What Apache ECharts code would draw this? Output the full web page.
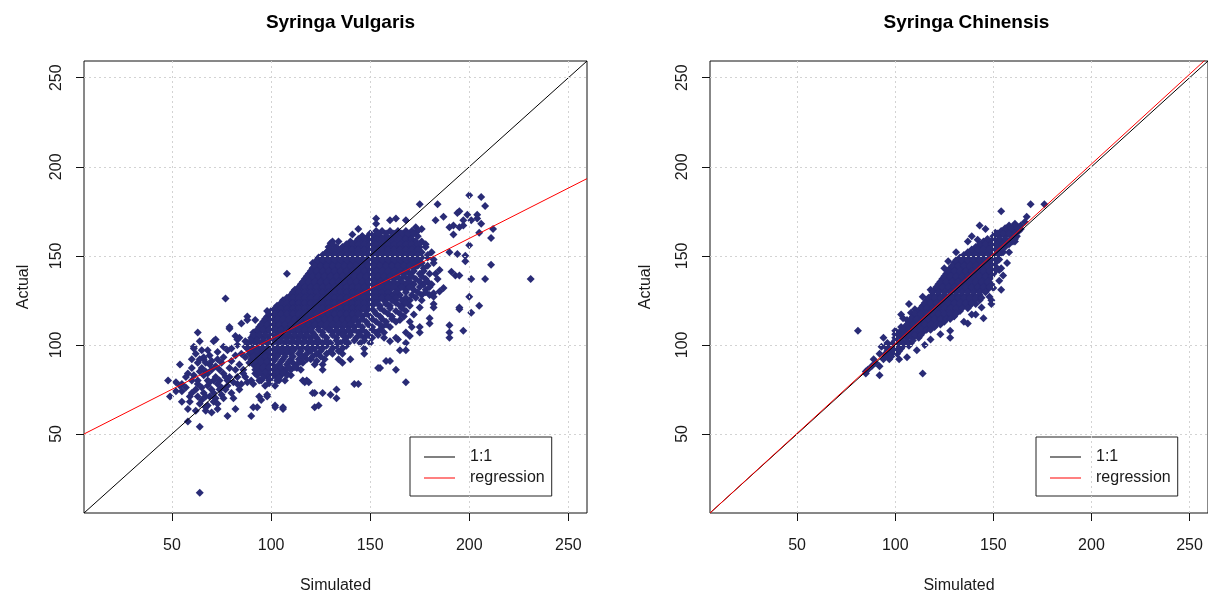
<!DOCTYPE html>
<html>
<head>
<meta charset="utf-8">
<script src="https://cdn.jsdelivr.net/npm/echarts@6/dist/echarts.min.js"></script>
<style>
html,body{margin:0;padding:0;background:#fff;}
#chart{width:1208px;height:599px;}
</style>
</head>
<body>
<div id="chart"></div>
<script>
// Shared axis extent (both axes, both panels) and tick marks
const axisMin = 5.6, axisMax = 259.4;
const tickValues = [50, 100, 150, 200, 250];
const panelTitles = ['Syringa Vulgaris', 'Syringa Chinensis'];
const legendNames = ['1:1', 'regression'];

// Fitted regression lines: [intercept, slope]
const vulgarisFit = [46.8, 0.565];
const chinensisFit = [-0.05, 1.008];

// Syringa vulgaris: scattered observations, [simulated, actual]
const vulgarisSparse = [
 [175,179],[184,179],[200,184],[206,183],[208,178],[194,174],[195,175],[199,173],[204,173],[204,171],
 [183,170],[187,172],[197,170],[201,170],[190,166],[192,167],[195,166],[197,167],[206,168],[205,163],
 [212,165],[192,162],[200,156],[190,152],[194,151],[198,150],[198,147],[211,145],[191,141],[193,139],
 [201,137],[208,137],[195,120],[201,118],[205,122],[200,127],[195,121],[190,111],[197,108],[190,104],
 [190,107],[180,112],[231,137],[211,160],[195,139],[185,130],[187,132],[182,127],[182,123],
 [153,171],[153,168],[160,170],[163,171],[168,170],[173,166],[176,165],[144,165],[141,162],[146,161],
 [130,157],[128,152],[123,145],[121,143],[108,140],[77,126],[88,116],[88,114],[79,109],[63,107],
 [61,98],[64,102],[54,89],[60,92],[66,93],[52,79],[55,78],[49,71],[48,80],[55,68],[59,71],[58,57],
 [64,54],[67,63],[73,64],[78,60],[82,64],[90,60],[93,65],[95,69],[98,72],[102,66],[106,64],[117,79],
 [119,79],[121,73],[122,73],[126,73],[130,72],[133,75],[133,70],[122,65],[124,66],[116,90],[120,92],
 [126,86],[126,89],[136,90],[140,92],[147,95],[147,98],[142,78],[144,78],[155,87],[160,91],[163,86],
 [168,79],[168,97],[165,97],[168,101],[158,91],[154,87],[160,102],[164,103],[170,105],[175,107],
 [165,114],[172,117],[180,115],[158,123],[163,125],[167,123],[175,121],[182,121],[182,129],[183,140],
 [185,142],[179,149],[182,148],[64,17],
 [61,99],[68,97],[71,102],[72,103],[69,94],[73,96],[73,92],[66,92],[64,92],[63,90],[60,87],[65,87],
 [69,89],[75,90],[79,87],[84,89],[87,93],[82,94],[78,97],[83,100],[87,99],[91,96],[89,90],[94,91],
 [66,83],[63,80],[68,80],[72,82],[76,84],[63,78],[68,77],[73,78],[78,80],[62,75],[66,73],[71,73],
 [77,75],[80,73],[63,71],[65,69],[69,71],[75,72],[64,67],[59,68],[55,74],[54,77],[83,78],[85,78],
 [87,82],[83,82],[92,84],[90,80],[94,80],[94,71],[98,71],[91,65],[102,65],[106,65],[94,87],[99,87],
 [98,82],[102,83],[104,80],[108,84],[110,83],[111,90],[113,87],[116,80],[118,80],[123,91],[82,105],
 [84,104],[87,102],[88,101],[91,103],[83,103],[93,108],[92,114],[95,111],[98,119],[79,110],[85,112],
 [70,86],[74,86],[67,85],[58,84],[57,82],[61,83],[70,75],[75,76],[79,82],[82,86],[86,86],[71,68],
 [68,66],[62,63],[70,62],[76,70],[58,64],[52,74],
 [62,95],[65,97],[67,90],[70,91],[72,88],[76,93],[80,91],[64,85],[68,84],[71,80],[74,80],[77,82],
 [60,80],[65,76],[69,79],[74,75],[78,77],[81,79],[67,71],[72,70],[60,73],[57,76],[85,95],[80,98],
 [76,99],[86,84],[88,79],[91,78],[84,75],[81,70],[73,67],[67,65]
];

// Syringa vulgaris, dense centre: each row is [actual, simulated, simulated, ...]
const vulgarisCore = [
 [164, 153,156,160,164,168,171,174],
 [161, 146,149,152,155,158,161,164,167,170,174],
 [158, 131,134,140,143,146,149,152,155,158,161,164,167,170,173,176],
 [155, 129,133,136,139,142,145,148,151,154,157,160,163,166,169,172,175,178],
 [152, 128,131,134,137,140,143,146,149,152,155,158,161,164,167,170,173,176,181],
 [149, 124,127,130,133,136,139,142,145,148,151,154,157,160,163,166,169,172,176],
 [146, 121,124,127,130,133,136,139,142,145,148,151,154,157,160,163,166,169,172,176,182],
 [143, 121,124,127,130,133,136,139,142,145,148,151,154,157,160,163,166,169,172,177],
 [140, 119,122,125,128,131,134,137,140,143,146,149,152,155,158,161,164,167,170,175,180],
 [137, 117,120,123,126,129,132,135,138,141,144,147,150,153,156,159,162,165,169,173,178,184],
 [134, 115,118,121,124,127,130,133,136,139,142,145,148,151,154,157,160,164,168,172,177,181],
 [131, 112,115,118,121,124,127,130,133,136,139,142,145,148,151,154,157,160,164,168,172,178],
 [128, 110,113,116,119,122,125,128,131,134,137,140,143,146,149,152,155,158,161,165,171,176,180],
 [125, 106,109,112,115,118,121,124,127,130,133,136,139,142,145,148,151,154,157,161,166,170,176],
 [122, 103,106,109,112,115,118,121,124,127,130,133,136,139,142,145,148,151,155,160,165,170],
 [119, 100,103,106,109,112,115,118,121,124,127,130,133,136,139,142,145,148,152,157,163,168],
 [116, 98,101,104,107,110,113,116,119,122,125,128,131,134,137,140,143,146,150,155,161,167],
 [113, 96,99,102,105,108,111,114,117,120,123,126,129,132,135,138,141,144,148,153,158,163,170],
 [110, 94,97,100,103,106,109,112,115,118,121,124,127,130,133,136,139,142,146,151,156,160,171,175],
 [107, 91,94,97,100,103,106,109,112,115,118,121,126,131,134,137,140,144,148,153,157,168],
 [104, 90,93,96,99,102,105,108,111,114,117,120,123,128,133,138,143,147,151,157,163],
 [101, 89,92,95,98,101,104,107,110,113,116,119,122,126,130,135,139,145,150],
 [98, 88,91,94,97,100,103,106,109,112,115,118,122,126,131,136],
 [95, 89,92,95,98,101,104,107,110,114,118,123,128,131,136],
 [92, 90,93,96,99,102,106,110,114,118,127,134],
 [89, 91,94,97,100,104,108,113,122],
 [86, 92,95,98,101,104,107,110,115],
 [83, 93,96,99,102,105,108],
 [80, 95,99,103,107],
 [77, 97,102]
];

// Syringa vulgaris, dense centre, readings between the rows above
const vulgarisCoreMid = [
 [162.5, 150,154,158,162,166,169,172],
 [159.5, 144,147,150,153,156,159,162,165,168,171],
 [156.5, 131,138,141,144,147,150,153,156,159,162,165,168,171,174,178],
 [153.5, 130,132,135,138,141,144,147,150,153,156,159,162,165,168,171,174],
 [150.5, 126,129,132,135,138,141,144,147,150,153,156,159,162,165,168,171,174,179],
 [147.5, 123,126,129,132,135,138,141,144,147,150,153,156,159,162,165,168,171,174],
 [144.5, 122,125,128,131,134,137,140,143,146,149,152,155,158,161,164,167,170,174,179],
 [141.5, 120,123,126,129,132,135,138,141,144,147,150,153,156,159,162,165,168,172,177],
 [138.5, 118,121,124,127,130,133,136,139,142,145,148,151,154,157,160,163,167,171,176],
 [135.5, 116,119,122,125,128,131,134,137,140,143,146,149,152,155,158,162,166,170,175,179],
 [132.5, 114,117,120,123,126,129,132,135,138,141,144,147,150,153,156,159,162,166,170,175,180],
 [129.5, 111,114,117,120,123,126,129,132,135,138,141,144,147,150,153,156,159,163,168,174,178],
 [126.5, 108,111,114,117,120,123,126,129,132,135,138,141,144,147,150,153,156,159,163,168,173],
 [123.5, 105,108,111,114,117,120,123,126,129,132,135,138,141,144,147,150,153,158,163,168],
 [120.5, 102,105,108,111,114,117,120,123,126,129,132,135,138,141,144,147,150,155,160,166],
 [117.5, 99,102,105,108,111,114,117,120,123,126,129,132,135,138,141,144,148,153,159,165],
 [114.5, 97,100,103,106,109,112,115,118,121,124,127,130,133,136,139,142,146,151,156,161],
 [111.5, 95,98,101,104,107,110,113,116,119,122,125,128,131,134,137,140,144,149,155,158],
 [108.5, 93,96,99,102,105,108,111,114,117,120,124,129,133,136,139,142,146,151,155],
 [105.5, 91,94,97,100,103,106,109,112,115,118,122,126,131,136,140,145,149,154],
 [102.5, 90,93,96,99,102,105,108,111,114,117,120,124,128,133,137,142,147],
 [99.5, 89,92,95,98,101,104,107,110,113,116,120,124,128,133,138],
 [96.5, 90,93,96,99,102,105,108,111,115,120,125,130,134],
 [93.5, 91,94,97,100,103,107,111,116,121,125],
 [90.5, 92,95,98,101,105,109,115],
 [87.5, 93,96,99,102,105,109,112],
 [84.5, 94,97,100,103,106],
 [81.5, 96,100,104],
 [78.5, 99]
];

// Syringa chinensis: scattered observations, [simulated, actual]
const chinensisSparse = [
 [169,179],[176,179],[154,175],[161,168],[166,169],[167,172],[143,167],[142,159],[151,163],[153,162],
 [107,123],[103,117],[104,115],[81,108],[94,104],[93,99],[95,99],[100,108],[97,93],[92,95],[90,90],
 [92,88],[86,86],[85,85],[92,83],[85,84],[102,92],[106,93],[111,97],[114,84],[128,104],[121,112],
 [124,113],[137,112],[141,117],[145,115],[141,123],[149,123],[149,125],[150,132],[154,131],[153,148],
 [154,143],[153,142],[97,99],[100,106],[103,110],[106,114],[96,101],[98,96],[118,131],[114,127],
 [110,120],[108,118],[127,147],[125,143],[131,152],[137,158],[139,161],[146,165],[135,113],[139,117],
 [144,121],[148,127],[153,136],[155,139],[157,146],[158,152],[161,158],[128,108],[123,106],[118,103],
 [115,100],[164,165],[163,166],[88,88],[89,92]
];

// Syringa chinensis, dense centre: each row is [actual, simulated, simulated, ...]
const chinensisCore = [
 [167, 158,161,164],
 [164, 154,157,160,163],
 [161, 150,153,156,159,162],
 [158, 145,148,151,154,157,160],
 [155, 141,144,147,150,153,156],
 [152, 137,140,143,146,149,152,155],
 [149, 133,136,139,142,145,148,151],
 [146, 130,133,136,139,142,145,148,151],
 [143, 128,131,134,137,140,143,146,149,152],
 [140, 126,129,132,135,138,141,144,147,150],
 [137, 124,127,130,133,136,139,142,145,148],
 [134, 122,125,128,131,134,137,140,143,146,149],
 [131, 120,123,126,129,132,135,138,141,144,147],
 [128, 119,122,125,128,131,134,137,140,143],
 [125, 116,119,122,125,128,131,134,137,140,143],
 [122, 114,117,120,123,126,129,132,135,138],
 [119, 112,115,118,121,124,127,130,133],
 [116, 109,112,115,118,121,124,127,130],
 [113, 107,110,113,116,119,122,125],
 [110, 105,108,111,114,117,120],
 [107, 102,105,108,111,114],
 [104, 100,103,106,109,112],
 [101, 99,102,105,108],
 [98, 97,100,103],
 [95, 95,98,101],
 [92, 94,97]
];

// Syringa chinensis, dense centre, readings between the rows above
const chinensisCoreMid = [
 [165.5, 156,159,162],
 [162.5, 152,155,158,161],
 [159.5, 147,150,153,156,159,161],
 [156.5, 143,146,149,152,155,158],
 [153.5, 139,142,145,148,151,154],
 [150.5, 135,138,141,144,147,150,153],
 [147.5, 131,134,137,140,143,146,149,152],
 [144.5, 129,132,135,138,141,144,147,150],
 [141.5, 127,130,133,136,139,142,145,148,151],
 [138.5, 125,128,131,134,137,140,143,146,149],
 [135.5, 123,126,129,132,135,138,141,144,147],
 [132.5, 121,124,127,130,133,136,139,142,145,148],
 [129.5, 119,122,125,128,131,134,137,140,143,146],
 [126.5, 117,120,123,126,129,132,135,138,141,144],
 [123.5, 115,118,121,124,127,130,133,136,139],
 [120.5, 113,116,119,122,125,128,131,134,137],
 [117.5, 110,113,116,119,122,125,128,131],
 [114.5, 108,111,114,117,120,123,126,128],
 [111.5, 106,109,112,115,118,121,123],
 [108.5, 104,107,110,113,116,118],
 [105.5, 101,104,107,110,113],
 [102.5, 100,103,106,109],
 [99.5, 98,101,104,107],
 [96.5, 96,99,102],
 [93.5, 95,98]
];

function expandRows(rows) {
  const out = [];
  rows.forEach(r => { for (let i = 1; i < r.length; i++) out.push([r[i], r[0]]); });
  return out;
}
function fitLine(fit) {
  return [[axisMin, fit[0] + fit[1] * axisMin], [axisMax, fit[0] + fit[1] * axisMax]];
}

const FONT = '"Liberation Sans", Arial, sans-serif';
const TEXT = '#1a1a1a';
const POINT = '#292b76';

const panels = [
  {
    title: panelTitles[0], fit: vulgarisFit,
    pts: vulgarisSparse.concat(expandRows(vulgarisCore), expandRows(vulgarisCoreMid))
  },
  {
    title: panelTitles[1], fit: chinensisFit,
    pts: chinensisSparse.concat(expandRows(chinensisCore), expandRows(chinensisCoreMid))
  }
];
const gridLeft = [84, 710];
const legendLeft = [410, 1036];
const nameGapY = [52, 56];

const option = {
  animation: false,
  backgroundColor: '#fff',
  title: panels.map((p, i) => ({
    text: p.title,
    left: gridLeft[i] + 251.5,
    textAlign: 'center',
    top: 8,
    textStyle: { fontFamily: FONT, fontSize: 19, fontWeight: 'bold', color: '#000' }
  })),
  grid: panels.map((p, i) => ({
    left: gridLeft[i], top: 61, width: 503, height: 456,
    show: true, borderColor: '#111', borderWidth: 1, backgroundColor: 'transparent'
  })),
  xAxis: panels.map((p, i) => ({
    gridIndex: i, type: 'value', min: axisMin, max: axisMax,
    name: 'Simulated', nameLocation: 'middle', nameGap: 65,
    nameTextStyle: { fontFamily: FONT, fontSize: 16, color: TEXT },
    axisLine: { show: false },
    axisTick: { show: true, customValues: tickValues, length: 8, lineStyle: { color: '#111' } },
    axisLabel: { customValues: tickValues, margin: 25, fontFamily: FONT, fontSize: 16, color: TEXT },
    splitLine: { show: false }
  })),
  yAxis: panels.map((p, i) => ({
    gridIndex: i, type: 'value', min: axisMin, max: axisMax,
    name: 'Actual', nameLocation: 'middle', nameGap: nameGapY[i],
    nameTextStyle: { fontFamily: FONT, fontSize: 16, color: TEXT },
    axisLine: { show: false },
    axisTick: { show: true, customValues: tickValues, length: 8, lineStyle: { color: '#111' } },
    axisLabel: { customValues: tickValues, margin: 19, rotate: 90, fontFamily: FONT, fontSize: 16, color: TEXT },
    splitLine: { show: false }
  })),
  legend: panels.map((p, i) => ({
    data: legendNames,
    orient: 'vertical',
    left: legendLeft[i], top: 437,
    padding: [12, 7, 10, 14],
    itemGap: 5,
    itemWidth: 31, itemHeight: 1,
    icon: 'rect',
    selectedMode: false,
    backgroundColor: '#fff',
    borderColor: '#222', borderWidth: 1, borderRadius: 0,
    textStyle: { fontFamily: FONT, fontSize: 16, color: TEXT, lineHeight: 16, padding: [0, 0, 0, 10] }
  })),
  series: []
};

panels.forEach((p, i) => {
  option.series.push({
    type: 'scatter', xAxisIndex: i, yAxisIndex: i, data: p.pts, z: 2,
    symbol: 'diamond', symbolSize: 8,
    itemStyle: { color: POINT, opacity: 1 },
    silent: true
  });
  // dotted reference grid at the tick positions, laid over the points
  option.series.push({
    type: 'scatter', xAxisIndex: i, yAxisIndex: i, data: [], z: 3, silent: true,
    markLine: {
      silent: true, symbol: ['none', 'none'], label: { show: false },
      lineStyle: { color: '#d3d3d3', type: [2, 3], width: 1 },
      emphasis: { disabled: true },
      data: tickValues.map(v => ({ xAxis: v })).concat(tickValues.map(v => ({ yAxis: v })))
    }
  });
  option.series.push({
    name: '1:1', type: 'line', xAxisIndex: i, yAxisIndex: i, z: 4,
    data: [[axisMin, axisMin], [axisMax, axisMax]],
    showSymbol: false, symbol: 'none', silent: true,
    lineStyle: { color: '#000', width: 1 }, itemStyle: { color: '#000' }
  });
  option.series.push({
    name: 'regression', type: 'line', xAxisIndex: i, yAxisIndex: i, z: 5,
    data: fitLine(p.fit),
    showSymbol: false, symbol: 'none', silent: true,
    lineStyle: { color: '#ff0000', width: 1 }, itemStyle: { color: '#ff0000' }
  });
});

const chart = echarts.init(document.getElementById('chart'), null, { renderer: 'canvas' });
chart.setOption(option);
</script>
</body>
</html>
